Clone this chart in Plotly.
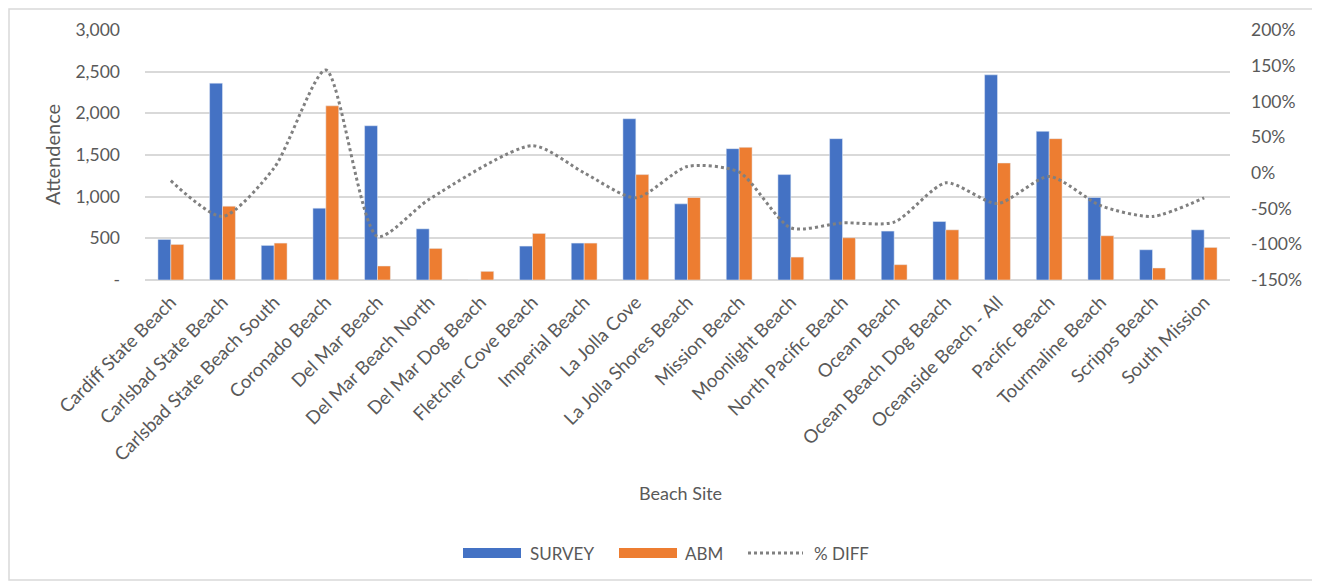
import plotly.graph_objects as go

sites = ["Cardiff State Beach", "Carlsbad State Beach", "Carlsbad State Beach South",
         "Coronado Beach", "Del Mar Beach", "Del Mar Beach North", "Del Mar Dog Beach",
         "Fletcher Cove Beach", "Imperial Beach", "La Jolla Cove", "La Jolla Shores Beach",
         "Mission Beach", "Moonlight Beach", "North Pacific Beach", "Ocean Beach",
         "Ocean Beach Dog Beach", "Oceanside Beach - All", "Pacific Beach",
         "Tourmaline Beach", "Scripps Beach", "South Mission"]
survey = [487, 2362, 415, 862, 1851, 614, 0, 407, 443, 1935, 914,
          1576, 1265, 1696, 587, 702, 2462, 1784, 990, 363, 602]
abm = [427, 886, 443, 2090, 168, 379, 104, 559, 443, 1265, 990,
       1592, 275, 507, 184, 602, 1404, 1696, 531, 144, 391]
pct_diff = [-0.11, -0.61, 0.07, 1.44, -0.89, -0.37, None, 0.38, 0.0, -0.35, 0.09,
            0.01, -0.77, -0.70, -0.69, -0.14, -0.43, -0.05, -0.46, -0.61, -0.35]

left_ticks = [0, 500, 1000, 1500, 2000, 2500, 3000]
left_labels = ["-", "500", "1,000", "1,500", "2,000", "2,500", "3,000"]
right_ticks = [-1.5, -1.0, -0.5, 0, 0.5, 1.0, 1.5, 2.0]
right_labels = ["-150%", "-100%", "-50%", "0%", "50%", "100%", "150%", "200%"]
series_names = ["SURVEY", "ABM", "% DIFF"]
series_colors = ["#4472C4", "#ED7D31", "#808080"]

FONT = "Lato, 'Liberation Sans Narrow', Arial, sans-serif"
TXT = "#595959"

fig = go.Figure()
fig.add_trace(go.Bar(x=sites, y=survey, name=series_names[0],
                     marker=dict(color=series_colors[0]), yaxis="y"))
fig.add_trace(go.Bar(x=sites, y=abm, name=series_names[1],
                     marker=dict(color=series_colors[1]), yaxis="y"))
fig.add_trace(go.Scatter(x=sites, y=pct_diff, name=series_names[2], mode="lines", yaxis="y2",
                         connectgaps=True,
                         line=dict(color=series_colors[2], width=3, dash="dot",
                                   shape="spline", smoothing=0.7)))

OFF = 8  # page body offset
W, H = 1320 - OFF, 584 - OFF
L, R, T, B = 145 - OFF, 1230 - OFF, 30 - OFF, 280 - OFF
pw, ph = R - L, B - T

def px(x):
    return (x - OFF - L) / pw

def py(y):
    return (B - (y - OFF)) / ph

shapes = [dict(type="rect", xref="paper", yref="paper",
               x0=px(9), x1=px(1315), y0=py(580), y1=py(9),
               line=dict(color="#D9D9D9", width=1.5), fillcolor="rgba(0,0,0,0)", layer="below")]
annotations = [
    dict(text="Attendence", xref="paper", yref="paper", x=px(52), y=py(155),
         textangle=-90, showarrow=False, font=dict(size=20, color=TXT),
         xanchor="center", yanchor="middle"),
    dict(text="Beach Site", xref="paper", yref="paper", x=px(680), y=py(493),
         showarrow=False, font=dict(size=18, color=TXT),
         xanchor="center", yanchor="middle"),
]
# custom legend (swatch + text)
leg_y = 553
leg_items = [(463, 521, 528), (619, 677, 683), (748, 803, 812)]
for i, (sx0, sx1, tx) in enumerate(leg_items):
    if i < 2:
        shapes.append(dict(type="rect", xref="paper", yref="paper",
                           x0=px(sx0), x1=px(sx1), y0=py(leg_y + 5), y1=py(leg_y - 5),
                           fillcolor=series_colors[i], line=dict(width=0)))
    else:
        shapes.append(dict(type="line", xref="paper", yref="paper",
                           x0=px(sx0), x1=px(sx1), y0=py(leg_y), y1=py(leg_y),
                           line=dict(color=series_colors[i], width=3, dash="dot")))
    annotations.append(dict(text=series_names[i], xref="paper", yref="paper",
                            x=px(tx), y=py(leg_y), xanchor="left", yanchor="middle",
                            showarrow=False, font=dict(size=17, color=TXT)))

fig.update_layout(
    width=W, height=H, autosize=False,
    margin=dict(l=L, r=W - R, t=T, b=H - B, pad=0),
    paper_bgcolor="white", plot_bgcolor="white",
    font=dict(family=FONT, size=17, color=TXT),
    barmode="group", bargap=0.5, bargroupgap=0,
    showlegend=False,
    xaxis=dict(tickangle=-45, tickfont=dict(size=18.5, color=TXT), showgrid=False,
               showline=False, ticks="", ticklabelstandoff=7),
    yaxis=dict(range=[0, 3000], tickvals=left_ticks, ticktext=left_labels,
               showgrid=True, gridcolor="#D9D9D9", gridwidth=1.5, zeroline=True,
               zerolinecolor="#D9D9D9", zerolinewidth=1.5, showline=False, ticks="",
               ticklabelstandoff=24, tickfont=dict(size=17.5, color=TXT)),
    yaxis2=dict(range=[-1.5, 2.0], tickvals=right_ticks, ticktext=right_labels,
                overlaying="y", side="right", showgrid=False, zeroline=False,
                showline=False, ticks="", ticklabelstandoff=20,
                tickfont=dict(size=17.5, color=TXT)),
    shapes=shapes,
    annotations=annotations,
)

fig.write_html("out.html")
